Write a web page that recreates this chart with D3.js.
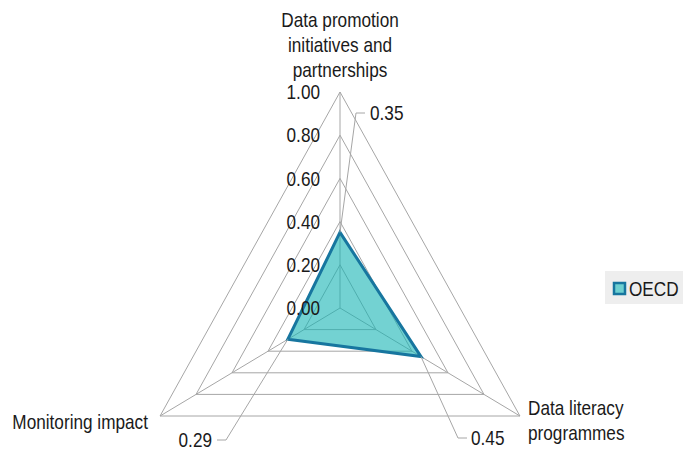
<!DOCTYPE html>
<html>
<head>
<meta charset="utf-8">
<script src="https://cdn.jsdelivr.net/npm/d3@7"></script>
<style>
  html, body { margin: 0; padding: 0; background: #fff; }
  svg { display: block; font-family: "Liberation Sans", Arial, sans-serif; }
</style>
</head>
<body>
<svg id="chart" width="683" height="454"></svg>
<script>
// Radar chart: OECD averages on three data-governance dimensions
const categories = [
  ["Data promotion", "initiatives and", "partnerships"],
  ["Data literacy", "programmes"],
  ["Monitoring impact"]
];
const seriesName = "OECD";
const values = [0.35, 0.45, 0.29];
const valueLabels = ["0.35", "0.45", "0.29"];
const tickValues = [0, 0.2, 0.4, 0.6, 0.8, 1.0];
const tickLabels = ["0.00", "0.20", "0.40", "0.60", "0.80", "1.00"];

const svg = d3.select("#chart");
const cx = 340, cy = 308;
const radius = 216;
const xStretch = 0.962; // plot area is slightly narrower than tall

const FONT_SIZE = 20;
const CONDENSE = 0.86; // narrow-looking type

const r = d3.scaleLinear().domain([0, 1]).range([0, radius]);
const angle = d3.scaleOrdinal()
  .domain(d3.range(categories.length))
  .range([-90, 30, 150].map(a => a * Math.PI / 180));

function pt(i, v) {
  const a = angle(i);
  return [cx + Math.cos(a) * r(v) * xStretch, cy + Math.sin(a) * r(v)];
}

// condensed text: lines drawn at (x, y + k*lineGap), centred vertically
function label(x, y, lines, anchor, lineGap) {
  const t = svg.append("text")
    .attr("transform", `translate(${x},${y}) scale(${CONDENSE},1)`)
    .attr("text-anchor", anchor)
    .attr("font-size", FONT_SIZE)
    .attr("fill", "#1a1a1a");
  [].concat(lines).forEach((s, k) => {
    t.append("tspan")
      .attr("x", 0)
      .attr("y", k * (lineGap || 0))
      .attr("dy", "0.36em")
      .text(s);
  });
  return t;
}

const gridColor = "#a6a6a6";
const line = d3.line();

// grid rings
const g = svg.append("g");
tickValues.filter(t => t > 0).forEach(t => {
  const pts = d3.range(categories.length).map(i => pt(i, t));
  g.append("path")
    .attr("d", line(pts) + "Z")
    .attr("fill", "none")
    .attr("stroke", gridColor)
    .attr("stroke-width", 1);
});
// spokes
d3.range(categories.length).forEach(i => {
  g.append("path")
    .attr("d", line([pt(i, 0), pt(i, 1)]))
    .attr("stroke", gridColor)
    .attr("stroke-width", 1);
});

// series polygon
const polyPts = values.map((v, i) => pt(i, v));
svg.append("path")
  .attr("d", line(polyPts) + "Z")
  .attr("fill", "rgb(22,180,180)")
  .attr("fill-opacity", 0.6)
  .attr("stroke", "#17769f")
  .attr("stroke-width", 3)
  .attr("stroke-linejoin", "miter");

// radial tick labels along the top spoke
tickValues.forEach((d, i) => label(320, pt(0, d)[1], tickLabels[i], "end"));

// category labels
label(340, 20, categories[0], "middle", 25);
label(528, 408, categories[1], "start", 25);
label(148, 422, categories[2], "end", 25);

// value labels with leader lines
const leaders = [
  { elbow: [356, 113], end: [365, 113], anchor: "start", tx: 370 },
  { elbow: [458, 438], end: [467, 438], anchor: "start", tx: 471 },
  { elbow: [226, 440], end: [217, 440], anchor: "end", tx: 212 }
];
values.forEach((v, i) => {
  const p = pt(i, v);
  const L = leaders[i];
  svg.append("path")
    .attr("d", line([p, L.elbow, L.end]))
    .attr("fill", "none")
    .attr("stroke", gridColor)
    .attr("stroke-width", 1);
  label(L.tx, L.end[1], valueLabels[i], L.anchor);
});

// legend
svg.append("rect")
  .attr("x", 605).attr("y", 271).attr("width", 78).attr("height", 33)
  .attr("fill", "#eeeeee");
svg.append("rect")
  .attr("x", 614).attr("y", 283).attr("width", 11).attr("height", 11)
  .attr("fill", "rgb(110,208,208)")
  .attr("stroke", "#17769f")
  .attr("stroke-width", 2.5);
label(629, 289, seriesName, "start");
</script>
</body>
</html>
